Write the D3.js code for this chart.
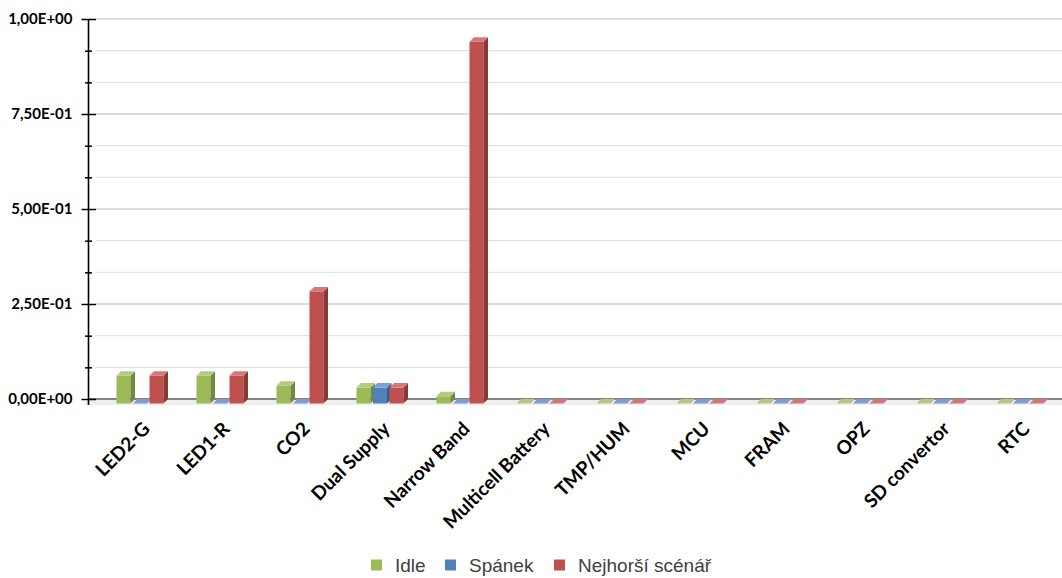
<!DOCTYPE html>
<html>
<head>
<meta charset="utf-8">
<script src="https://cdn.jsdelivr.net/npm/d3@7/dist/d3.min.js"></script>
<style>
  html, body { margin: 0; padding: 0; background: #ffffff; }
  svg { display: block; }
</style>
</head>
<body>
<script>
// Component list and per-mode consumption values
const categories = ["LED2-G", "LED1-R", "CO2", "Dual Supply", "Narrow Band", "Multicell Battery",
                    "TMP/HUM", "MCU", "FRAM", "OPZ", "SD convertor", "RTC"];
const seriesNames = ["Idle", "Spánek", "Nejhorší scénář"];
const idle    = [0.073, 0.073, 0.047, 0.042, 0.019, 0, 0, 0, 0, 0, 0, 0];
const spanek  = [0, 0, 0, 0.042, 0, 0, 0, 0, 0, 0, 0, 0];
const worst   = [0.073, 0.073, 0.295, 0.042, 0.952, 0, 0, 0, 0, 0, 0, 0];
const yMajorTicks = [0, 0.25, 0.5, 0.75, 1];
const yMinorTicks = d3.range(0, 13).map(i => i / 12);

const W = 1062, H = 578;
const svg = d3.select("body").append("svg").attr("width", W).attr("height", H);

// face colours: front, side (darker), top (lighter)
const faces = [
  { front: "#9BBB59", side: "#71883F", top: "#B2CB80" },
  { front: "#4F81BD", side: "#385E8C", top: "#7C9FCF" },
  { front: "#C0504D", side: "#8A3836", top: "#D27A77" }
];
const seriesValues = [idle, spanek, worst];

const axisX = 88.5;
const y = d3.scaleLinear().domain([0, 1]).range([399, 19]);
const x = d3.scaleBand().domain(categories).range([101, 1061]).paddingInner(0).paddingOuter(0);
const xs = d3.scaleBand().domain(d3.range(3)).range([15.5, 65]);
const depth = 4.5;          // 3-D offset of the back plane
const frontW = 14;

// back-wall gridlines
const grid = svg.append("g");
grid.selectAll("line").data(yMinorTicks.filter(v => v > 0)).join("line")
  .attr("x1", 96).attr("x2", W)
  .attr("y1", d => y(d)).attr("y2", d => y(d))
  .attr("stroke", (d, i) => ((i + 1) % 3 === 0) ? "#d0d0d0" : "#e3e3e3")
  .attr("stroke-width", 1.3);

// floor
svg.append("polygon")
  .attr("points", [[axisX, y(0)], [W, y(0)], [W, y(0) + depth + 1.5], [axisX - depth, y(0) + depth + 1.5]].map(p => p.join(",")).join(" "))
  .attr("fill", "#eeeeee");
svg.append("line")
  .attr("x1", axisX).attr("x2", W).attr("y1", y(0)).attr("y2", y(0))
  .attr("stroke", "#858585").attr("stroke-width", 1.8);

// bars
const bars = svg.append("g");
categories.forEach((c, ci) => {
  seriesValues.forEach((vals, si) => {
    const v = vals[ci];
    const x0 = x(c) + xs(si);
    const x1 = x0 + frontW;
    const yb = y(0) + depth;
    const yt = y(v) + depth;
    const f = faces[si];
    const g = bars.append("g");
    if (v > 0) {
      g.append("rect").attr("x", x0).attr("y", yt).attr("width", frontW).attr("height", yb - yt).attr("fill", f.front);
      g.append("polygon").attr("fill", f.side)
        .attr("points", [[x1, yt], [x1 + depth, yt - depth], [x1 + depth, yb - depth], [x1, yb]].map(p => p.join(",")).join(" "));
    }
    g.append("polygon").attr("fill", f.top)
      .attr("points", [[x0, yt], [x0 + depth, yt - depth], [x1 + depth, yt - depth], [x1, yt]].map(p => p.join(",")).join(" "));
  });
});

// value axis
const fmt = v => {
  const [m, e] = v.toExponential(2).split("e");
  const n = +e;
  return m.replace(".", ",") + "E" + (n < 0 ? "-" : "+") + String(Math.abs(n)).padStart(2, "0");
};
const minorOnly = yMinorTicks.filter(v => !yMajorTicks.some(m => Math.abs(m - v) < 1e-9));
const yAxisL = svg.append("g").attr("transform", `translate(${axisX},0)`)
  .call(d3.axisLeft(y).tickValues(yMajorTicks).tickSize(7).tickPadding(9).tickFormat(fmt));
const yAxisR = svg.append("g").attr("transform", `translate(${axisX},0)`)
  .call(d3.axisRight(y).tickValues(yMajorTicks).tickSize(7.5).tickFormat(""));
const yMinL = svg.append("g").attr("transform", `translate(${axisX},0)`)
  .call(d3.axisLeft(y).tickValues(minorOnly).tickSize(3.5).tickFormat(""));
const yMinR = svg.append("g").attr("transform", `translate(${axisX},0)`)
  .call(d3.axisRight(y).tickValues(minorOnly).tickSize(3.5).tickFormat(""));
[yAxisL, yAxisR, yMinL, yMinR].forEach(a => {
  a.select(".domain").remove();
  a.selectAll(".tick line").attr("stroke", "#000").attr("stroke-width", 1.5);
});
yAxisL.selectAll("text")
  .attr("font-family", "Lato, sans-serif").attr("font-weight", "bold").attr("font-size", 15)
  .attr("fill", "#000");
svg.append("line").attr("x1", axisX).attr("x2", axisX).attr("y1", y(1)).attr("y2", y(0) + 6)
  .attr("stroke", "#000").attr("stroke-width", 1.6);

// category labels
svg.append("g").selectAll("text").data(categories).join("text")
  .attr("transform", d => `translate(${x(d) + x.bandwidth() / 2 + 10},430) rotate(-45)`)
  .attr("text-anchor", "end")
  .attr("font-family", "Lato, sans-serif").attr("font-weight", "bold").attr("font-size", 19)
  .attr("fill", "#000")
  .text(d => d);

// legend
const legendX = [371, 445, 554];
const leg = svg.append("g");
seriesNames.forEach((n, i) => {
  leg.append("rect").attr("x", legendX[i]).attr("y", 559.5).attr("width", 11).attr("height", 11).attr("fill", faces[i].front);
  leg.append("text").attr("x", legendX[i] + 24).attr("y", 572)
    .attr("font-family", "'Liberation Sans', Arial, sans-serif").attr("font-size", 19).attr("fill", "#404040")
    .text(n);
});
</script>
</body>
</html>
